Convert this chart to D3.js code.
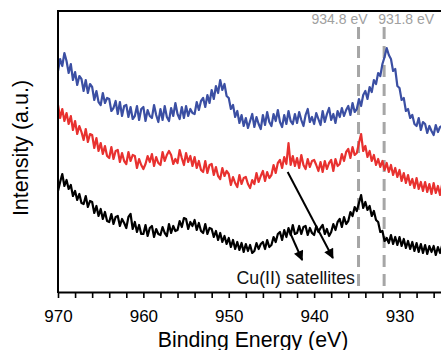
<!DOCTYPE html>
<html>
<head>
<meta charset="utf-8">
<script src="https://cdn.jsdelivr.net/npm/d3@7"></script>
<style>
body { margin: 0; background: #fff; }
svg { display: block; font-family: "Liberation Sans", Arial, Helvetica, sans-serif; }
</style>
</head>
<body>
<div id="chart"></div>
<script>
/**
 * Intensities are arbitrary units (offset traces).
 */
var startEnergy = 970, stepEnergy = 0.25;

var blueCounts = [
  221, 233, 226, 239,  231, 219, 228, 212,  220, 207, 216, 213,  201, 212, 199, 208,
  205, 192, 201, 190,  187, 199, 189, 194,  193, 181, 184, 191,  178, 190, 176, 186,
  187, 175, 185, 173,  176, 186, 172, 183,  185, 171, 182, 176,  174, 187, 177, 170,
  183, 172, 186, 175,  171, 184, 176, 189,  178, 173, 185, 174,  186, 176, 183, 179,
  178, 190, 182, 191,  194, 185, 197, 189,  202, 193, 206, 199,  212, 202, 208, 196,
  194, 183, 187, 175,  181, 169, 177, 166,  174, 164, 171, 178,  165, 175, 168, 163,
  177, 167, 180, 170,  166, 178, 171, 182,  170, 165, 177, 168,  181, 171, 168, 178,
  169, 180, 172, 166,  177, 183, 170, 175,  168, 179, 173, 167,  181, 170, 178, 184,
  172, 178, 169, 181,  175, 184, 176, 182,  186, 177, 189, 180,  183, 193, 186, 197,
  201, 193, 205, 200,  212, 208, 219, 216,  228, 235, 244, 237,  233, 221, 223, 206,
  204, 192, 194, 181,  183, 174, 177, 168,  166, 174, 162, 170,  168, 159, 166, 161,
  157, 167, 160, 165,  166, 156, 163, 158,  161
];

var redCounts = [
  187, 174, 183, 171,  179, 168, 176, 162,  171, 158, 166, 160,  152, 163, 150, 158,
  157, 144, 154, 141,  149, 138, 146, 136,  134, 145, 133, 141,  142, 130, 139, 131,
  128, 140, 131, 137,  136, 124, 133, 127,  123, 128, 136, 130,  138, 126, 135, 129,
  127, 140, 131, 137,  141, 137, 128, 133,  129, 142, 134, 127,  139, 130, 136, 126,
  135, 124, 131, 122,  120, 131, 119, 127,  128, 117, 125, 116,  113, 124, 116, 121,
  118, 107, 115, 109,  105, 117, 108, 114,  115, 108, 104, 112,  108, 119, 110, 116,
  121, 111, 120, 114,  117, 127, 119, 129,  132, 124, 135, 128,  149, 127, 136, 126,
  134, 124, 137, 127,  123, 133, 125, 131,  132, 127, 121, 130,  120, 131, 123, 129,
  132, 121, 133, 126,  128, 138, 131, 140,  143, 134, 145, 137,  139, 149, 158, 141,
  146, 135, 141, 131,  137, 127, 133, 125,  131, 122, 129, 120,  127, 117, 124, 115,
  122, 111, 119, 109,  117, 107, 113, 104,  114, 103, 110, 101,  110, 100, 108, 98,
  109, 99, 106, 97,  108, 98, 105, 100,  106
];

var blackCounts = [
  101, 110, 118, 106,  112, 103, 107, 96,  101, 92, 98, 89,  88, 96, 85, 91,
  90, 79, 86, 76,  83, 73, 80, 71,  70, 78, 68, 75,  76, 66, 73, 69,
  64, 75, 78, 63,  70, 60, 67, 58,  58, 67, 56, 64,  66, 55, 63, 58,
  57, 65, 59, 56,  68, 59, 66, 61,  62, 71, 65, 74,  73, 63, 70, 66,
  72, 62, 69, 61,  59, 68, 58, 64,  63, 55, 61, 52,  59, 50, 56, 48,
  54, 45, 52, 43,  50, 42, 49, 40,  48, 41, 47, 39,  41, 49, 43, 48,
  50, 43, 52, 45,  47, 55, 50, 58,  60, 52, 62, 55,  64, 57, 67, 58,
  59, 66, 58, 65,  66, 57, 64, 59,  57, 66, 60, 64,  67, 58, 63, 56,
  60, 68, 62, 70,  73, 65, 75, 68,  71, 80, 76, 85,  81, 89, 97, 84,
  90, 82, 86, 76,  81, 72, 70, 60,  61, 51, 54, 49,  57, 48, 55, 47,
  55, 46, 53, 44,  51, 43, 50, 41,  49, 40, 48, 39,  47, 38, 46, 40,
  46, 37, 45, 39,  47, 38, 46, 41,  43
];

var seriesColors = ["#3b4fa3", "#e8312f", "#000000"];
var xTickValues = [970, 968, 966, 964, 962, 960, 958, 956, 954, 952, 950, 948, 946, 944,
                   942, 940, 938, 936, 934, 932, 930, 928, 926, 924, 922];
var refLines = [934.8, 931.8];
var refLabels = ["934.8 eV", "931.8 eV"];
// annotation arrows: [startEnergy, startIntensity, endEnergy, endIntensity]
var arrows = [[943.1, 120, 937.8, 34], [942.8, 59, 941.4, 32]];
var annotation = { text: "Cu(II) satellites", energy: 949.1, intensity: 8 };

var margin = {top: 11, right: 0, bottom: 58, left: 58};
var _width = 441 - margin.left - margin.right;
var _height = 350 - margin.top - margin.bottom;

var energies = blueCounts.map(function(d, i) { return startEnergy - i * stepEnergy; });

var _xRange = d3.scaleLinear().domain([970, 920]).range([0, 50 * 8.5375]);
var _yRange = d3.scaleLinear().domain([0, _height]).range([_height, 0]);

var svg = d3.select("#chart").append("svg")
  .attr("width", 441)
  .attr("height", 350)
  .append("g")
  .attr("transform", "translate(" + margin.left + "," + margin.top + ")");

svg.append("defs").append("marker")
  .attr("id", "head")
  .attr("viewBox", "0 0 10 10")
  .attr("refX", 9).attr("refY", 5)
  .attr("markerWidth", 5.5).attr("markerHeight", 5)
  .attr("orient", "auto")
  .append("path")
  .attr("d", "M0,0 L10,5 L0,10 z")
  .attr("fill", "#000");

/**
 * Dashed reference lines and their grey labels
 * (first label ends just right of its line, second starts just left of its line)
 */
refLines.forEach(function(e, i) {
  svg.append("line")
    .attr("x1", _xRange(e)).attr("x2", _xRange(e))
    .attr("y1", 16).attr("y2", _height)
    .attr("stroke", "#a6a6a6")
    .attr("stroke-width", 3)
    .attr("stroke-dasharray", "12,7");
  svg.append("text")
    .attr("x", i === 0 ? _xRange(e) + 9 : _xRange(e) - 6)
    .attr("y", 12.5)
    .attr("text-anchor", i === 0 ? "end" : "start")
    .attr("font-size", 14)
    .attr("fill", "#a0a0a0")
    .text(refLabels[i]);
});

/**
 * Spectra
 */
var line = d3.line()
  .x(function(d, i) { return _xRange(energies[i]); })
  .y(function(d) { return _yRange(d); });

[blueCounts, redCounts, blackCounts].forEach(function(s, i) {
  svg.append("path")
    .datum(s)
    .attr("fill", "none")
    .attr("stroke", seriesColors[i])
    .attr("stroke-width", 2.2)
    .attr("stroke-linejoin", "round")
    .attr("d", line);
});

// arrows pointing at the satellites
arrows.forEach(function(a) {
  svg.append("line")
    .attr("x1", _xRange(a[0])).attr("y1", _yRange(a[1]))
    .attr("x2", _xRange(a[2])).attr("y2", _yRange(a[3]))
    .attr("stroke", "#000")
    .attr("stroke-width", 2)
    .attr("marker-end", "url(#head)");
});

svg.append("text")
  .attr("x", _xRange(annotation.energy))
  .attr("y", _yRange(annotation.intensity))
  .attr("font-size", 17.8)
  .attr("fill", "#111")
  .text(annotation.text);

/**
 * Frame and axes
 */
var xAxis = svg.append("g")
  .attr("transform", "translate(0," + _height + ")")
  .call(d3.axisBottom(_xRange)
    .tickValues(xTickValues)
    .tickSize(6)
    .tickSizeOuter(0)
    .tickPadding(12)
    .tickFormat(function(d) { return d % 10 === 0 ? d : ""; }));
xAxis.select(".domain").attr("stroke-width", 2);
xAxis.selectAll(".tick line").attr("stroke-width", 1.6);
xAxis.selectAll("text")
  .attr("font-size", 17)
  .attr("font-family", "'Liberation Sans', Arial, sans-serif")
  .attr("fill", "#000");

svg.append("line")
  .attr("x1", 0).attr("x2", 0).attr("y1", -1).attr("y2", _height + 1)
  .attr("stroke", "#000").attr("stroke-width", 2);
svg.append("line")
  .attr("x1", -1).attr("x2", 500).attr("y1", 0).attr("y2", 0)
  .attr("stroke", "#000").attr("stroke-width", 2);

svg.append("text")
  .attr("x", 253 - margin.left)
  .attr("y", 347 - margin.top)
  .attr("text-anchor", "middle")
  .attr("font-size", 21.3)
  .text("Binding Energy (eV)");

svg.append("text")
  .attr("transform", "translate(" + (28 - margin.left) + "," + (148 - margin.top) + ") rotate(-90)")
  .attr("text-anchor", "middle")
  .attr("font-size", 21.5)
  .text("Intensity (a.u.)");
</script>
</body>
</html>
